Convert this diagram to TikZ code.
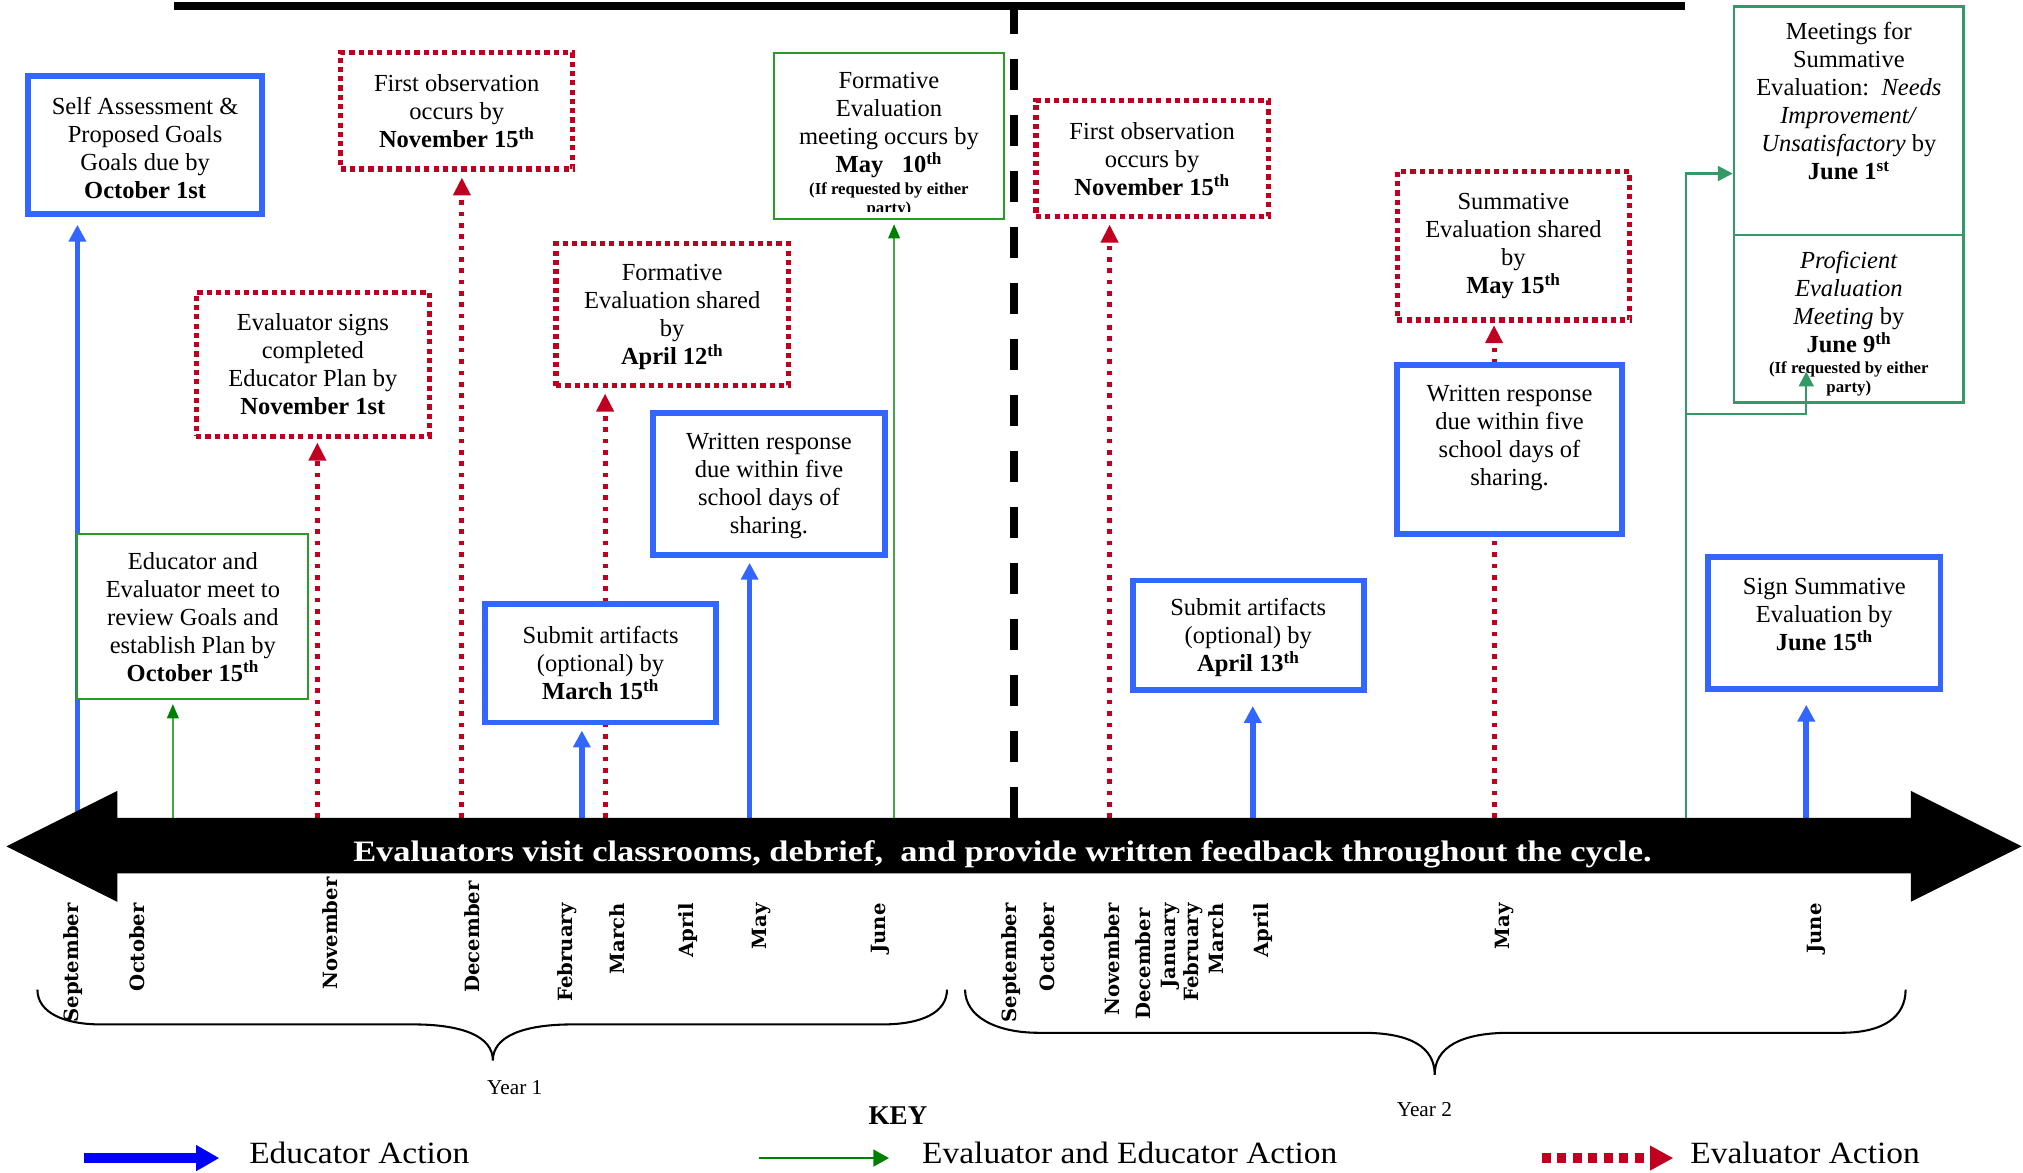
\documentclass[tikz,border=0pt]{standalone}
\usepackage{fontspec}
\setmainfont{Liberation Serif}
\newfontfamily\monthfont{DejaVu Serif}
\newfontfamily\widefont{Liberation Serif}[FakeStretch=1.16]
\newfontfamily\legendfont{Liberation Serif}[FakeStretch=1.08]
\usetikzlibrary{arrows.meta}
\definecolor{eblue}{RGB}{51,102,255}
\definecolor{ered}{RGB}{192,0,32}
\definecolor{egreen}{RGB}{0,128,0}
\definecolor{glinec}{RGB}{70,165,70}
\definecolor{gboxc}{RGB}{40,155,40}
\definecolor{sgreen}{RGB}{51,153,102}
\definecolor{lblue}{RGB}{0,0,255}
\pgfdeclarelayer{bg}
\pgfsetlayers{bg,main}
\tikzset{
 bx/.style={rectangle, inner sep=0pt, fill=white},
 bluebox/.style={bx, draw=eblue, line width=4.5pt},
 redbox/.style={bx, draw=ered, line width=4pt, dash pattern=on 4pt off 3.2pt},
 greenbox/.style={bx, draw=gboxc, line width=1.5pt},
 sgbox/.style={bx, draw=sgreen, line width=2pt},
 txt/.style={align=flush center, inner sep=0pt, font=\fontsize{19}{21.7}\selectfont},
 bluearr/.style={draw=eblue, line width=4.4pt, -{Triangle[width=13pt,length=13pt]}},
 redarr/.style={draw=ered, line width=3.9pt, dash pattern=on 3.6pt off 5.2pt, -{Triangle[width=13pt,length=14pt]}},
 greenarr/.style={draw=glinec, line width=1.5pt, -{Triangle[width=9pt,length=11pt,color=egreen]}},
 sgarr/.style={draw=sgreen, line width=1.8pt, -{Triangle[width=11.5pt,length=11.5pt]}},
 month/.style={rotate=90, anchor=east, inner sep=0pt, font=\monthfont\bfseries\fontsize{15.2}{17}\selectfont},
 brace/.style={draw=black, line width=1.6pt},
 yearlbl/.style={inner sep=0pt, font=\fontsize{16.5}{18}\selectfont},
 legend/.style={anchor=base west, inner sep=0pt, font=\legendfont\fontsize{24}{26}\selectfont},
}
\newcommand{\smallnote}{\fontsize{13}{15}\selectfont\bfseries}
\begin{document}
\begin{tikzpicture}[x=1pt,y=-1pt]
\useasboundingbox (0,0) rectangle (1568,909);

% ---------- boxes ----------
\node[bluebox, minimum width=181pt, minimum height=107pt] (sa) at (112.5,112.5) {};
\node[txt, text width=175pt] (sa-t) at ([yshift=-2pt]sa.center) {Self Assessment \&\\Proposed Goals\\Goals due by\\\textbf{October 1st}};

\node[redbox, minimum width=180pt, minimum height=90pt] (fo1) at (354,86) {};
\node[txt, text width=175pt] (fo1-t) at (fo1.center) {First observation\\occurs by\\\textbf{November 15\textsuperscript{th}}};

\node[redbox, minimum width=181pt, minimum height=111pt] (es) at (242.5,282.5) {};
\node[txt, text width=175pt] (es-t) at (es.center) {Evaluator signs\\completed\\Educator Plan by\\\textbf{November 1st}};

\node[greenbox, minimum width=179pt, minimum height=128pt] (em) at (149.5,478) {};
\node[txt, text width=175pt] (em-t) at (em.center) {Educator and\\Evaluator meet to\\review Goals and\\establish Plan by\\\textbf{October 15\textsuperscript{th}}};

\node[redbox, minimum width=180pt, minimum height=110pt] (fs) at (521,244) {};
\node[txt, text width=175pt] (fs-t) at ([yshift=-1.5pt]fs.center) {Formative\\Evaluation shared\\by\\\textbf{April 12\textsuperscript{th}}};

\node[bluebox, minimum width=179pt, minimum height=92pt] (sub1) at (465.5,514) {};
\node[txt, text width=175pt] (sub1-t) at (sub1.center) {Submit artifacts\\(optional) by\\\textbf{March 15\textsuperscript{th}}};

\node[bluebox, minimum width=180pt, minimum height=110pt] (wr1) at (596,375) {};
\node[txt, text width=175pt] (wr1-t) at ([yshift=-1.5pt]wr1.center) {Written response\\due within five\\school days of\\sharing.};

\node[greenbox, minimum width=178pt, minimum height=129pt] (fm) at (689,105.5) {};
\begin{scope}
\clip ([yshift=7pt]fm.south west) rectangle (fm.north east);
\node[txt, text width=172pt] (fm-t) at (689,112) {Formative\\Evaluation\\meeting occurs by\\\textbf{May\ \ \ 10\textsuperscript{th}}\par\vspace{2pt}{\smallnote (If requested by either\\party)\par}};
\end{scope}

\node[redbox, minimum width=180pt, minimum height=90pt] (fo2) at (893,123) {};
\node[txt, text width=175pt] (fo2-t) at (fo2.center) {First observation\\occurs by\\\textbf{November 15\textsuperscript{th}}};

\node[bluebox, minimum width=179pt, minimum height=85pt] (sub2) at (967.5,492.5) {};
\node[txt, text width=175pt] (sub2-t) at ([yshift=-1.5pt]sub2.center) {Submit artifacts\\(optional) by\\\textbf{April 13\textsuperscript{th}}};

\node[redbox, minimum width=180pt, minimum height=115pt] (ss) at (1173,190.5) {};
\node[txt, text width=175pt] (ss-t) at (ss.center) {Summative\\Evaluation shared\\by\\\textbf{May 15\textsuperscript{th}}};

\node[bluebox, minimum width=174pt, minimum height=131pt] (wr2) at (1170,348.5) {};
\node[txt, text width=170pt] (wr2-t) at ([yshift=9pt]wr2.center) {Written response\\due within five\\school days of\\sharing.};

\node[sgbox, minimum width=178pt, minimum height=177pt] (ms) at (1433,93.5) {};
\node[txt, text width=174pt] (ms-t) at ([yshift=15pt]ms.center) {Meetings for\\Summative\\Evaluation:\ \ \textit{Needs}\\\textit{Improvement/}\\\textit{Unsatisfactory} by\\\textbf{June 1\textsuperscript{st}}};

\node[sgbox, minimum width=178pt, minimum height=130pt] (pe) at (1433,247) {};
\node[txt, text width=174pt] (pe-t) at ([yshift=-4pt]pe.center) {\textit{Proficient}\\\textit{Evaluation}\\\textit{Meeting} by\\\textbf{June 9\textsuperscript{th}}\par\vspace{1pt}{\smallnote (If requested by either\\party)\par}};

\node[bluebox, minimum width=180pt, minimum height=102pt] (sg) at (1414,483) {};
\node[txt, text width=175pt] (sg-t) at ([yshift=7pt]sg.center) {Sign Summative\\Evaluation by\\\textbf{June 15\textsuperscript{th}}};

% ---------- connector start points on the time line ----------
\coordinate (c01) at (60,634);
\coordinate (c02) at (134,634);
\coordinate (c03) at (246,634);
\coordinate (c04) at (358,634);
\coordinate (c05) at (451,634);
\coordinate (c06) at (469,634);
\coordinate (c07) at (581,634);
\coordinate (c08) at (693,634);
\coordinate (c09) at (860,634);
\coordinate (c10) at (971,634);
\coordinate (c11) at (1158,634);
\coordinate (c12) at (1307,634);
\coordinate (c13) at (1400,634);
\coordinate (gb) at (1307,321);

\begin{pgfonlayer}{bg}
\draw[bluearr, shorten >=6pt] (c01) -- (c01 |- sa.south);
\draw[greenarr, shorten >=3pt] (c02) -- (c02 |- em.south);
\draw[redarr, shorten >=3pt] (c03) -- (c03 |- es.south);
\draw[redarr, shorten >=4.5pt] (c04) -- (c04 |- fo1.south);
\draw[bluearr, shorten >=4pt] (c05) -- (c05 |- sub1.south);
\draw[redarr, shorten >=4pt] (c06) -- (c06 |- fs.south);
\draw[bluearr, shorten >=4pt] (c07) -- (c07 |- wr1.south);
\draw[greenarr, shorten >=3pt] (c08) -- (c08 |- fm.south);
\draw[redarr, shorten >=4pt] (c09) -- (c09 |- fo2.south);
\draw[bluearr, shorten >=10pt] (c10) -- (c10 |- sub2.south);
\draw[redarr, shorten >=2pt] (c11) -- (c11 |- ss.south);
\draw[sgarr] (c12) |- ([yshift=-41pt]ms.west);
\draw[bluearr, shorten >=10pt] (c13) -- (c13 |- sg.south);
\end{pgfonlayer}
\draw[sgarr] (gb) -| ([xshift=-33pt,yshift=25pt]pe.south);

% ---------- top rule and year divider ----------
\draw[line width=6pt] (135,4.5) -- (1306,4.5);
\draw[line width=6pt, dash pattern=on 23.8pt off 19.6pt] (786,634) -- (786,5);

% ---------- time line arrow ----------
\fill[black] (5,656) -- (91,613) -- (91,634) -- (1481,634) -- (1481,613) -- (1567,656)
  -- (1481,699) -- (1481,677) -- (91,677) -- (91,699) -- cycle;
\node[anchor=base, inner sep=0pt, text=white, font=\widefont\fontsize{23}{25}\selectfont\bfseries] (tl) at (777,668)
  {Evaluators visit classrooms, debrief,\ \ and provide written feedback throughout the cycle.};

% ---------- months ----------
\node[month] (m1) at (57,700) {September};
\node[month] (m2) at (106,700) {October};
\node[month] (m3) at (256,680) {November};
\node[month] (m4) at (366,683) {December};
\node[month] (m5) at (440,700) {February};
\node[month] (m6) at (478,700) {March};
\node[month] (m7) at (533,700) {April};
\node[month] (m8) at (590,700) {May};
\node[month] (m9) at (682,700) {June};
\node[month] (n1) at (784,700) {September};
\node[month] (n2) at (812,700) {October};
\node[month] (n3) at (862,700) {November};
\node[month] (n4) at (886,704) {December};
\node[month] (n5) at (907,700) {January};
\node[month] (n6) at (925,700) {February};
\node[month] (n7) at (943,700) {March};
\node[month] (n8) at (979,700) {April};
\node[month] (n9) at (1166,700) {May};
\node[month] (n10) at (1408,700) {June};

% ---------- braces ----------
\draw[brace] (29,767) .. controls (29,785) and (50,794) .. (78,794) -- (320,794)
  .. controls (358,794) and (382,803) .. (382,822)
  .. controls (382,803) and (406,794) .. (444,794) -- (684,794)
  .. controls (714,794) and (734,785) .. (734,767);
\draw[brace] (748,767) .. controls (748,788) and (772,800.5) .. (805,800.5) -- (1056,800.5)
  .. controls (1094,800.5) and (1112,812) .. (1112,833)
  .. controls (1112,812) and (1132,800.5) .. (1170,800.5) -- (1427,800.5)
  .. controls (1460,800.5) and (1477,788) .. (1477,767);
\node[yearlbl] (y1) at (399,843) {Year 1};
\node[yearlbl] (y2) at (1104,860) {Year 2};

% ---------- key ----------
\node[inner sep=0pt, font=\fontsize{21}{23}\selectfont\bfseries] (key) at (696,865) {KEY};
\coordinate (k1a) at (65,897.6);
\coordinate (k1b) at (170,897.6);
\coordinate (k2a) at (588,897.6);
\coordinate (k2b) at (689,897.6);
\coordinate (k3a) at (1195,897.6);
\coordinate (k3b) at (1297,897.6);
\draw[draw=lblue, line width=7.8pt, -{Triangle[width=19pt,length=18pt]}] (k1a) -- (k1b);
\draw[draw=egreen, line width=1.5pt, -{Triangle[width=13pt,length=12pt]}] (k2a) -- (k2b);
\draw[draw=ered, line width=7.8pt, dash pattern=on 7pt off 5pt, -{Triangle[width=18pt,length=18pt]}] (k3a) -- (k3b);
\node[legend] (l1) at (193,901.6) {Educator Action};
\node[legend] (l2) at (714.6,901.6) {Evaluator and Educator Action};
\node[legend] (l3) at (1310,901.6) {Evaluator Action};
\end{tikzpicture}
\end{document}
